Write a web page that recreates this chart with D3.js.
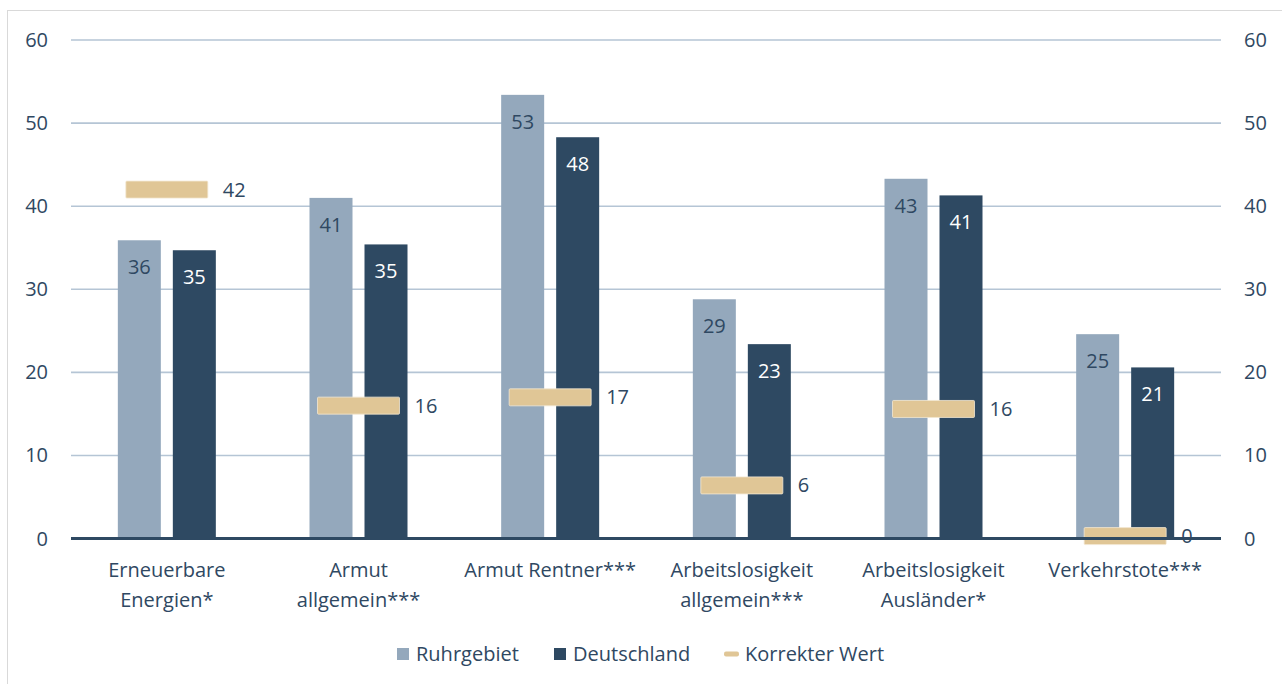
<!DOCTYPE html>
<html><head><meta charset="utf-8">
<script src="https://cdn.jsdelivr.net/npm/d3@7"></script>
<style>html,body{margin:0;padding:0;background:#fff;overflow:hidden}</style>
</head><body>
<svg id="c" width="1282" height="684"></svg>
<script>
const categories = ["Erneuerbare\nEnergien*", "Armut\nallgemein***", "Armut Rentner***", "Arbeitslosigkeit\nallgemein***", "Arbeitslosigkeit\nAusländer*", "Verkehrstote***"];
const ruhrgebiet = [35.9, 41.0, 53.4, 28.8, 43.3, 24.6];
const deutschland = [34.7, 35.4, 48.3, 23.4, 41.3, 20.6];
const korrekterWert = [42.0, 16.0, 17.0, 6.4, 15.6, 0.3];
const yTicks = [0, 10, 20, 30, 40, 50, 60];
const seriesNames = ["Ruhrgebiet", "Deutschland", "Korrekter Wert"];

const font = "'Open Sans', sans-serif";
const fs = "20px";
const textCol = "#2F4862";
const cLight = "#94A8BC", cDark = "#2E4962", cGold = "#E0C696", cGrid = "#B5C5D5";

const svg = d3.select("#c");
svg.append("rect").attr("x", 7.5).attr("y", 10.5).attr("width", 1300).attr("height", 700)
  .attr("fill", "none").attr("stroke", "#D9D9D9").attr("stroke-width", 1);

const left = 71, right = 1221;
const y = d3.scaleLinear().domain([0, 60]).range([538.6, 40]);
const x = d3.scaleBand().domain(categories).range([left, right]).padding(0);
const xs = d3.scaleBand().domain([0, 1]).range([-49, 49]).paddingInner(12 / 55).paddingOuter(0);

const g = svg.append("g").style("font-family", font);

// gridlines
g.selectAll("line.grid").data(yTicks.filter(t => t > 0)).join("line")
  .attr("x1", left).attr("x2", right)
  .attr("y1", d => y(d)).attr("y2", d => y(d))
  .attr("stroke", cGrid).attr("stroke-width", 1.6);

// axes labels
const yl = d3.axisLeft(y).tickValues(yTicks).tickSize(0).tickPadding(23);
const yr = d3.axisRight(y).tickValues(yTicks).tickSize(0).tickPadding(23);
const gl = g.append("g").attr("transform", `translate(${left},0)`).call(yl);
const gr = g.append("g").attr("transform", `translate(${right},0)`).call(yr);
[gl, gr].forEach(a => {
  a.select(".domain").remove();
  a.selectAll("text").attr("fill", textCol).style("font-family", font).style("font-size", fs);
});

// bars
const data = categories.map((c, i) => ({ c, vals: [ruhrgebiet[i], deutschland[i]], k: korrekterWert[i] }));
const grp = g.selectAll("g.cat").data(data).join("g")
  .attr("transform", d => `translate(${x(d.c) + x.bandwidth() / 2},0)`);

grp.selectAll("rect.bar").data(d => d.vals.map((v, j) => ({ v, j }))).join("rect")
  .attr("x", d => xs(d.j)).attr("width", xs.bandwidth())
  .attr("y", d => y(d.v)).attr("height", d => y(0) - y(d.v))
  .attr("fill", d => d.j === 0 ? cLight : cDark);

grp.selectAll("text.val").data(d => d.vals.map((v, j) => ({ v, j }))).join("text")
  .attr("x", d => xs(d.j) + xs.bandwidth() / 2).attr("y", d => y(d.v) + 34)
  .attr("text-anchor", "middle").style("font-size", fs)
  .attr("fill", d => d.j === 0 ? textCol : "#FFFFFF")
  .text(d => d3.format(".0f")(d.v));

// axis line
g.append("line").attr("x1", left).attr("x2", right).attr("y1", y(0)).attr("y2", y(0))
  .attr("stroke", cDark).attr("stroke-width", 3);

// correct value markers
grp.append("rect").attr("x", -41).attr("width", 82)
  .attr("y", d => y(d.k) - 8.5).attr("height", 17).attr("rx", 1)
  .attr("fill", cGold).attr("stroke", "#F3E7D2").attr("stroke-width", 0.8);
grp.append("text").attr("x", 56).attr("y", d => y(d.k)).attr("dy", "0.35em")
  .style("font-size", fs).attr("fill", textCol)
  .text(d => d3.format(".0f")(d.k));

// category labels
grp.append("text").attr("text-anchor", "middle").style("font-size", fs).attr("fill", textCol)
  .selectAll("tspan").data(d => d.c.split("\n")).join("tspan")
  .attr("x", 0).attr("y", (d, i) => 577 + i * 30).text(d => d);

// legend
const leg = g.append("g").attr("transform", "translate(0,654)");
const legX = [397, 554, 724];
seriesNames.forEach((n, i) => {
  if (i < 2) {
    leg.append("rect").attr("x", legX[i]).attr("y", -6).attr("width", 12).attr("height", 12)
      .attr("fill", i === 0 ? cLight : cDark);
  } else {
    leg.append("rect").attr("x", legX[i]).attr("y", -2.5).attr("width", 15).attr("height", 5).attr("rx", 2)
      .attr("fill", cGold);
  }
  leg.append("text").attr("x", legX[i] + (i < 2 ? 19 : 21)).attr("y", 0).attr("dy", "0.35em")
    .style("font-size", fs).attr("fill", textCol).text(n);
});
</script>
</body></html>
